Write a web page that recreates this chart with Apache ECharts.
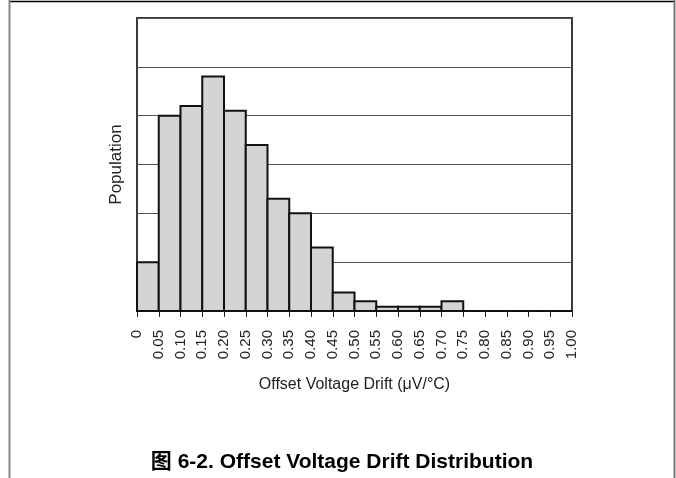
<!DOCTYPE html>
<html>
<head>
<meta charset="utf-8">
<script src="https://cdn.jsdelivr.net/npm/echarts@6/dist/echarts.min.js"></script>
<style>
  html, body { margin: 0; padding: 0; background: #fff; }
  #chart { width: 676px; height: 478px; }
</style>
</head>
<body>
<div id="chart"></div>
<script>
// histogram bins (uV/C), bin width 0.05
var binStart = [0, 0.05, 0.10, 0.15, 0.20, 0.25, 0.30, 0.35, 0.40, 0.45,
                0.50, 0.55, 0.60, 0.65, 0.70, 0.75, 0.80, 0.85, 0.90, 0.95];
var binEnd   = [0.05, 0.10, 0.15, 0.20, 0.25, 0.30, 0.35, 0.40, 0.45, 0.50,
                0.55, 0.60, 0.65, 0.70, 0.75, 0.80, 0.85, 0.90, 0.95, 1.00];
// population (arbitrary units, axis unlabeled)
var population = [1.0, 4.0, 4.2, 4.8, 4.1, 3.4, 2.3, 2.0, 1.3, 0.38,
                  0.2, 0.085, 0.085, 0.085, 0.2, 0, 0, 0, 0, 0];
var xTickLabels = ['0', '0.05', '0.10', '0.15', '0.20', '0.25', '0.30', '0.35', '0.40', '0.45',
                   '0.50', '0.55', '0.60', '0.65', '0.70', '0.75', '0.80', '0.85', '0.90', '0.95', '1.00'];

var font = "'Liberation Sans', Arial, sans-serif";

var data = [];
for (var i = 0; i < population.length; i++) {
  if (population[i] > 0) data.push([binStart[i], binEnd[i], population[i]]);
}

var myChart = echarts.init(document.getElementById('chart'), null, { renderer: 'canvas' });

var option = {
  backgroundColor: '#fff',
  animation: false,
  grid: {
    left: 137, right: 104, top: 18, bottom: 167,
    show: true, borderColor: '#3a3a3a', borderWidth: 2, backgroundColor: 'transparent'
  },
  xAxis: {
    type: 'value',
    min: 0, max: 1, interval: 0.05,
    name: 'Offset Voltage Drift (\u03bcV/\u00b0C)',
    nameLocation: 'middle',
    nameGap: 66,
    nameTextStyle: { fontFamily: font, fontSize: 16, color: '#222' },
    axisLine: { show: true, lineStyle: { color: '#111', width: 2 } },
    axisTick: { show: true, length: 6, lineStyle: { color: '#222', width: 1 } },
    axisLabel: {
      rotate: 90, margin: 19,
      fontFamily: font, fontSize: 15, color: '#222',
      formatter: function (v, idx) { return xTickLabels[idx]; }
    },
    splitLine: { show: false }
  },
  yAxis: {
    type: 'value',
    min: 0, max: 6, interval: 1,
    name: 'Population',
    nameLocation: 'middle',
    nameGap: 12,
    nameTextStyle: { fontFamily: font, fontSize: 17, color: '#222' },
    axisLine: { show: false },
    axisTick: { show: false },
    axisLabel: { show: false },
    splitLine: { show: true, lineStyle: { color: '#555', width: 1 } }
  },
  series: [{
    type: 'custom',
    data: data,
    encode: { x: [0, 1], y: 2 },
    renderItem: function (params, api) {
      var p0 = api.coord([api.value(0), 0]);
      var p1 = api.coord([api.value(1), api.value(2)]);
      return {
        type: 'rect',
        shape: { x: p0[0], y: p1[1], width: p1[0] - p0[0], height: p0[1] - p1[1] },
        style: { fill: '#d3d4d6', stroke: '#111', lineWidth: 2 }
      };
    }
  }],
  graphic: [
    { type: 'line', shape: { x1: 9, y1: 1.5, x2: 674, y2: 1.5 }, style: { stroke: '#000', lineWidth: 1.5 } },
    { type: 'line', shape: { x1: 9.5, y1: 0, x2: 9.5, y2: 478 }, style: { stroke: '#888', lineWidth: 2 } },
    { type: 'line', shape: { x1: 674.5, y1: 0, x2: 674.5, y2: 478 }, style: { stroke: '#777', lineWidth: 2 } },
    {
      type: 'text', x: 342, y: 462,
      style: {
        text: '\u56fe 6-2. Offset Voltage Drift Distribution',
        font: "bold 21px 'Liberation Sans', 'Noto Sans CJK SC', sans-serif",
        fill: '#000', textAlign: 'center', textVerticalAlign: 'middle'
      }
    }
  ]
};

option && myChart.setOption(option);
</script>
</body>
</html>
